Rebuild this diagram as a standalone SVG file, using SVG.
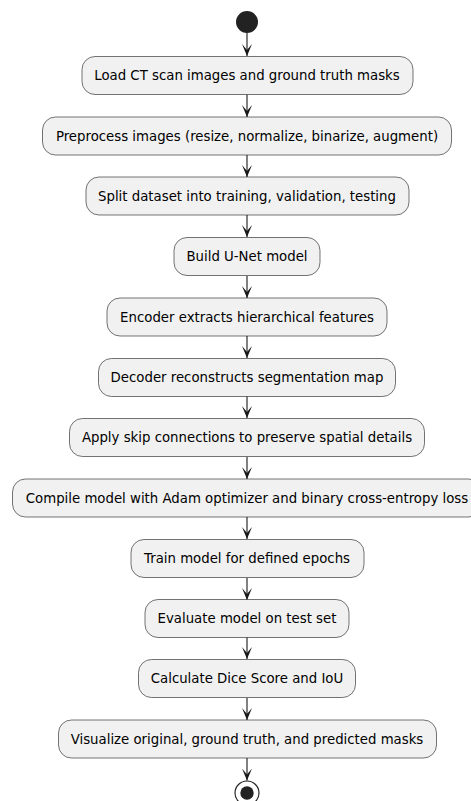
<svg xmlns="http://www.w3.org/2000/svg" width="471" height="801" viewBox="0 0 471 801">
<style>
.box{fill:#F1F1F1;stroke:#181818;stroke-width:0.6}
.t{font-family:"DejaVu Sans",sans-serif;font-size:13.3px;fill:#000;text-anchor:middle}
.ln{stroke:#181818;stroke-width:1.1;fill:none}
</style>
<defs>
<marker id="ah" viewBox="0 0 12 10" refX="12" refY="5" markerWidth="12" markerHeight="10" markerUnits="userSpaceOnUse" orient="auto">
<path d="M0,0 L12,5 L0,10 L6,5 Z" fill="#181818"/>
</marker>
</defs>
<rect width="471" height="801" fill="#FFFFFF"/>
<g id="start"><circle cx="247" cy="22" r="11" fill="#222222"/></g>
<g id="connectors">
<line class="ln" x1="247" y1="33" x2="247" y2="56" marker-end="url(#ah)"/>
<line class="ln" x1="247" y1="94.5" x2="247" y2="117" marker-end="url(#ah)"/>
<line class="ln" x1="247" y1="155" x2="247" y2="177" marker-end="url(#ah)"/>
<line class="ln" x1="247" y1="215" x2="247" y2="237" marker-end="url(#ah)"/>
<line class="ln" x1="247" y1="276" x2="247" y2="298" marker-end="url(#ah)"/>
<line class="ln" x1="247" y1="336" x2="247" y2="358" marker-end="url(#ah)"/>
<line class="ln" x1="247" y1="396" x2="247" y2="418" marker-end="url(#ah)"/>
<line class="ln" x1="247" y1="457" x2="247" y2="479" marker-end="url(#ah)"/>
<line class="ln" x1="247" y1="517" x2="247" y2="539" marker-end="url(#ah)"/>
<line class="ln" x1="247" y1="578" x2="247" y2="600" marker-end="url(#ah)"/>
<line class="ln" x1="247" y1="637" x2="247" y2="659" marker-end="url(#ah)"/>
<line class="ln" x1="247" y1="698" x2="247" y2="720" marker-end="url(#ah)"/>
<line class="ln" x1="247" y1="758" x2="247" y2="780.5" marker-end="url(#ah)"/>
</g>
<g id="n1"><rect class="box" x="82" y="56.5" width="331" height="38" rx="13"/><text class="t" x="247" y="80">Load CT scan images and ground truth masks</text></g>
<g id="n2"><rect class="box" x="42.5" y="117" width="409" height="38" rx="13"/><text class="t" x="247" y="140.5">Preprocess images (resize, normalize, binarize, augment)</text></g>
<g id="n3"><rect class="box" x="86" y="177" width="323" height="38" rx="13"/><text class="t" x="247" y="200.5">Split dataset into training, validation, testing</text></g>
<g id="n4"><rect class="box" x="174" y="237.5" width="146" height="38" rx="13"/><text class="t" x="247" y="261">Build U-Net model</text></g>
<g id="n5"><rect class="box" x="107" y="298" width="280" height="38" rx="13"/><text class="t" x="247" y="321.5">Encoder extracts hierarchical features</text></g>
<g id="n6"><rect class="box" x="98.5" y="358.5" width="297" height="38" rx="13"/><text class="t" x="247" y="382">Decoder reconstructs segmentation map</text></g>
<g id="n7"><rect class="box" x="69.5" y="418.5" width="355" height="38" rx="13"/><text class="t" x="247" y="442">Apply skip connections to preserve spatial details</text></g>
<g id="n8"><rect class="box" x="12.5" y="479" width="469" height="38" rx="13"/><text class="t" x="247" y="502.5">Compile model with Adam optimizer and binary cross-entropy loss</text></g>
<g id="n9"><rect class="box" x="131" y="539.5" width="233" height="38" rx="13"/><text class="t" x="247" y="563">Train model for defined epochs</text></g>
<g id="n10"><rect class="box" x="145" y="599.5" width="204" height="38" rx="13"/><text class="t" x="247" y="623">Evaluate model on test set</text></g>
<g id="n11"><rect class="box" x="138.5" y="659.5" width="217" height="38" rx="13"/><text class="t" x="247" y="683">Calculate Dice Score and IoU</text></g>
<g id="n12"><rect class="box" x="58.5" y="720" width="378" height="38" rx="13"/><text class="t" x="247" y="743.5">Visualize original, ground truth, and predicted masks</text></g>
<g id="end"><circle cx="247" cy="793" r="12" fill="none" stroke="#222222" stroke-width="1.2"/><circle cx="247" cy="793" r="6.7" fill="#222222"/></g>
</svg>
